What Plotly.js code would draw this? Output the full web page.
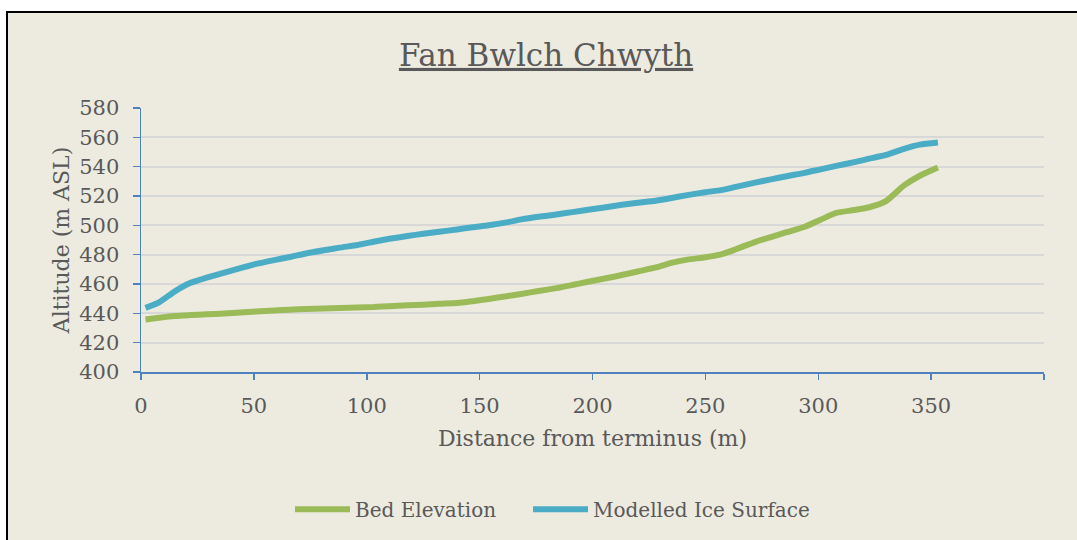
<!DOCTYPE html>
<html>
<head>
<meta charset="utf-8">
<script src="https://cdn.plot.ly/plotly-3.0.1.min.js"></script>
<style>
  html, body { margin: 0; padding: 0; background: #ffffff; }
  #frame { position: absolute; left: 6px; top: 11px; width: 1071px; height: 529px;
           background: #EDEBE0; border-left: 2px solid #000; border-top: 2px solid #000; box-sizing: border-box; }
  #chart { position: absolute; left: 0; top: 0; width: 1077px; height: 540px; }
</style>
</head>
<body>
<div id="frame"></div>
<div id="chart"></div>
<script>
const distance = [2, 8, 15, 22, 29, 37, 44, 51, 59, 66, 73, 81, 88, 96, 103, 110, 118, 125, 132, 140,
  147, 154, 162, 169, 176, 184, 191, 198, 206, 213, 220, 228, 235, 242, 250, 257, 264, 272, 279, 286,
  294, 301, 308, 316, 323, 330, 338, 345, 353];
const bedElevation = [435.8, 437, 438.2, 438.8, 439.3, 439.9, 440.5, 441.2, 441.9, 442.5, 443, 443.3,
  443.6, 444, 444.3, 444.9, 445.5, 445.9, 446.5, 447, 448.3, 449.8, 451.7, 453.4, 455.2, 457.2, 459.3,
  461.5, 463.9, 466.1, 468.5, 471.3, 474.4, 476.6, 478.2, 480.2, 484, 488.6, 492, 495.3, 499, 503.8,
  508.5, 510.4, 512.5, 516.5, 527.2, 533.8, 539.4];
const iceSurface = [443.7, 447.5, 455, 460.8, 464.3, 467.8, 470.8, 473.7, 476.3, 478.4, 480.8, 483,
  484.8, 486.6, 488.8, 490.8, 492.7, 494.3, 495.6, 497.2, 498.7, 500, 502, 504.2, 505.8, 507.4, 509,
  510.6, 512.3, 514, 515.4, 516.8, 518.6, 520.6, 522.6, 524, 526.4, 529.1, 531.3, 533.5, 535.8, 538.2,
  540.5, 543.1, 545.6, 548, 552.2, 555, 556.4];
const xTickVals = [0, 50, 100, 150, 200, 250, 300, 350, 400];
const xTickText = ['0', '50', '100', '150', '200', '250', '300', '350', ''];
const yTickVals = [400, 420, 440, 460, 480, 500, 520, 540, 560, 580];

const FONT = 'DejaVu Serif, Liberation Serif, serif';
const TXT = '#595959';

const traces = [
  { x: distance, y: bedElevation, name: 'Bed Elevation', type: 'scatter', mode: 'lines', legend: 'legend',
    line: { color: '#9BBB59', width: 6, shape: 'spline', smoothing: 0.6 } },
  { x: distance, y: iceSurface, name: 'Modelled Ice Surface', type: 'scatter', mode: 'lines', legend: 'legend2',
    line: { color: '#4BACC6', width: 6, shape: 'spline', smoothing: 0.6 } }
];

const legendBase = { orientation: 'h', xref: 'container', xanchor: 'left', y: 0.057, yref: 'container', yanchor: 'middle',
  font: { family: FONT, size: 20, color: TXT }, itemwidth: 55, bgcolor: 'rgba(0,0,0,0)' };

const layout = {
  width: 1077, height: 540,
  paper_bgcolor: 'rgba(0,0,0,0)', plot_bgcolor: 'rgba(0,0,0,0)',
  margin: { l: 141, r: 33, t: 108, b: 168 },
  font: { family: FONT, color: TXT, size: 20 },
  title: { text: '<span style="text-decoration:underline">Fan Bwlch Chwyth</span>',
           font: { family: FONT, size: 31, color: TXT },
           x: 0.507, xref: 'container', xanchor: 'center', y: 0.898, yref: 'container', yanchor: 'middle' },
  xaxis: {
    range: [0, 400], tickvals: xTickVals, ticktext: xTickText,
    showgrid: false, zeroline: false, showline: true, linecolor: '#4F81BD', linewidth: 1.5,
    ticks: 'outside', ticklen: 6, tickcolor: '#4F81BD', tickwidth: 1.5,
    tickfont: { family: FONT, size: 21, color: TXT }, ticklabelstandoff: 8,
    title: { text: 'Distance from terminus (m)', font: { family: FONT, size: 22, color: TXT }, standoff: 14 }
  },
  yaxis: {
    range: [400, 580], tickvals: yTickVals,
    showgrid: true, gridcolor: '#D8D8D8', gridwidth: 2, zeroline: false,
    showline: true, linecolor: '#4F81BD', linewidth: 1.5,
    ticks: 'outside', ticklen: 7, tickcolor: '#4F81BD', tickwidth: 1.5,
    tickfont: { family: FONT, size: 21, color: TXT }, ticklabelstandoff: 9,
    title: { text: 'Altitude (m ASL)', font: { family: FONT, size: 22, color: TXT }, standoff: 3 }
  },
  showlegend: true,
  legend: Object.assign({}, legendBase, { x: 290 / 1077 }),
  legend2: Object.assign({}, legendBase, { x: 528 / 1077 })
};

Plotly.newPlot('chart', traces, layout, { displayModeBar: false, staticPlot: true });
</script>
</body>
</html>
